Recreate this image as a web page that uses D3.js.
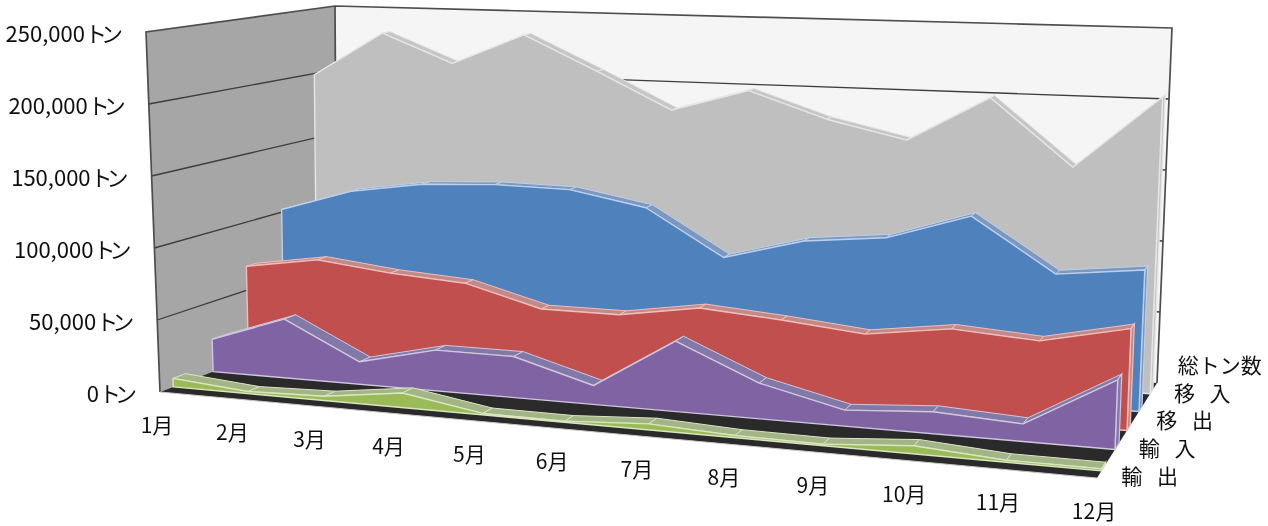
<!DOCTYPE html>
<html><head><meta charset="utf-8">
<script src="https://cdn.jsdelivr.net/npm/d3@7/dist/d3.min.js"></script>
<style>html,body{margin:0;padding:0;background:#fff}svg{display:block}text{font-family:"Noto Sans CJK JP","Noto Sans",sans-serif;fill:#111}</style>
</head><body><svg id="c" width="1268" height="526"></svg>
<script>
const months=["1月","2月","3月","4月","5月","6月","7月","8月","9月","10月","11月","12月"];
const yTicks=[0,50000,100000,150000,200000,250000];
const seriesNames=["輸 出","輸 入","移 出","移 入","総トン数"];
const exportTons=[6000,1500,3000,10000,1000,800,4000,1400,1000,5200,1300,1300];
const importTons=[23300,41900,15900,28500,28500,13000,47800,24000,10700,14500,11500,45000];
const shipOutTons=[67600,76000,70000,66500,52000,52000,60700,56500,51000,58800,55000,67500];
const shipInTons=[102000,118700,127000,129700,129000,119000,86600,101800,107500,126000,89500,96000];
const totalTons=[199000,233000,211600,235000,209600,183000,199500,181000,168400,201000,154500,206000];
const seriesValues=[exportTons,importTons,shipOutTons,shipInTons,totalTons];
const faceColors=["#9bbb59","#8064a2","#c0504d","#4f81bd","#bfbfbf"];
const topColors=["#a3b587","#8279a8","#c08a8a","#7b97c0","#c6c6c6"];
const edgeColors=["#d9e6bf","#d0c6de","#f5bdb8","#bcd0ea","#e6e6e6"];

// frame of the 3-D box: floor corners and the matching corners at the top of the value axis
const FL=[160,392],FR=[1097,478],BR=[1157,383],BL=[337,324];
const FLT=[146,32],FRT=[1112,78],BRT=[1172,28],BLT=[335,6];
const warp=-0.125;
const mix=(p,q,k)=>[p[0]+(q[0]-p[0])*k,p[1]+(q[1]-p[1])*k];
function project(t,dep,z){
  const u=t*(1+warp)/(1+warp*t);
  const base=mix(mix(FL,FR,u),mix(BL,BR,u),dep);
  const top=mix(mix(FLT,FRT,u),mix(BLT,BRT,u),dep);
  return mix(base,top,z);
}
const xScale=d3.scaleLinear().domain([0,months.length-1]).range([0,1]);
const yScale=d3.scaleLinear().domain([0,250000]).range([0,1]);
const frontDepth=[0.075,0.30,0.50,0.70,0.887];
const slabDepth=[0.07,0.068,0.055,0.05,0.045];
const P=(i,dep,v)=>project(xScale(i),dep,yScale(v));
const line=d3.line();
const closed=pts=>line(pts)+"Z";

const svg=d3.select("#c");
const defs=svg.append("defs");
defs.append("filter").attr("id","soft").attr("x",0).attr("y",0).attr("width",1).attr("height",1)
  .append("feGaussianBlur").attr("stdDeviation",0.45);
const root=svg.append("g").attr("filter","url(#soft)");
root.append("rect").attr("width",1268).attr("height",526).attr("fill","#fff");

// walls + floor
const n=months.length-1,vMax=250000;
root.append("path").attr("d",closed([P(0,1,0),P(n,1,0),P(n,1,vMax),P(0,1,vMax)])).attr("fill","#f5f5f5");
root.append("path").attr("d",closed([P(0,0,0),P(0,1,0),P(0,1,vMax),P(0,0,vMax)])).attr("fill","#a6a6a6");
root.append("path").attr("d",closed([P(0,0,0),P(n,0,0),P(n,1,0),P(0,1,0)])).attr("fill","#2a2a2a");
root.selectAll(".grid").data(yTicks.slice(1,-1)).join("path").attr("class","grid")
  .attr("d",v=>line([P(0,0,v),P(0,1,v),P(n,1,v)])).attr("fill","none").attr("stroke","#3c3c3c").attr("stroke-width",1.3);
root.append("path").attr("d",line([P(0,0,0),P(0,0,vMax),P(0,1,vMax),P(n,1,vMax),P(n,1,0)]))
  .attr("fill","none").attr("stroke","#4d4d4d").attr("stroke-width",1.7);
root.append("path").attr("d",line([P(0,1,vMax),P(0,1,0)])).attr("fill","none").attr("stroke","#4d4d4d").attr("stroke-width",1.7);
root.append("path").attr("d",line([P(0,0,0),P(n,0,0)])).attr("fill","none").attr("stroke","#c8c8c8").attr("stroke-width",1);

// series slabs, rear to front
d3.range(seriesValues.length-1,-1,-1).forEach(s=>{
  const vals=seriesValues[s],d0=frontDepth[s],d1=d0+slabDepth[s];
  const g1=root.append("g");
  g1.selectAll("path.top").data(d3.range(n)).join("path").attr("class","top")
    .attr("d",i=>closed([P(i,d0,vals[i]),P(i+1,d0,vals[i+1]),P(i+1,d1,vals[i+1]),P(i,d1,vals[i])]))
    .attr("fill",topColors[s]).attr("stroke",edgeColors[s]).attr("stroke-width",1);
  g1.append("path").attr("d",closed([P(n,d0,0),P(n,d1,0),P(n,d1,vals[n]),P(n,d0,vals[n])]))
    .attr("fill",topColors[s]).attr("stroke",edgeColors[s]).attr("stroke-width",1.2);
  const face=vals.map((v,i)=>P(i,d0,v)).concat([P(n,d0,0),P(0,d0,0)]);
  g1.append("path").attr("d",closed(face)).attr("fill",faceColors[s]).attr("stroke",edgeColors[s]).attr("stroke-width",1.4).attr("stroke-linejoin","round");
});

// value labels
const yl=root.selectAll(".yl").data(yTicks).join("text").attr("class","yl")
  .attr("text-anchor","end").attr("font-size",22)
  .attr("x",v=>P(0,0,v)[0]-29).attr("y",v=>P(0,0,v)[1]+10);
yl.append("tspan").text(v=>d3.format(",")(v)+"");
yl.append("tspan").attr("letter-spacing",-6).text("トン");

// month labels
root.selectAll(".ml").data(months).join("text").attr("class","ml")
  .attr("text-anchor","middle").attr("font-size",21)
  .attr("x",(m,i)=>P(i,0,0)[0]-3).attr("y",(m,i)=>P(i,0,0)[1]+41).text(m=>m);

// series labels
const labelDepth=d3.scaleLinear().domain([0,4]).range([0.01,1.18]);
root.selectAll(".sl").data(seriesNames).join("text").attr("class","sl")
  .attr("text-anchor","middle").attr("font-size",21).attr("word-spacing",10)
  .attr("x",(m,i)=>P(n,labelDepth(i),0)[0]+52).attr("y",(m,i)=>P(n,labelDepth(i),0)[1]+7)
  .text(m=>m);
</script></body></html>
